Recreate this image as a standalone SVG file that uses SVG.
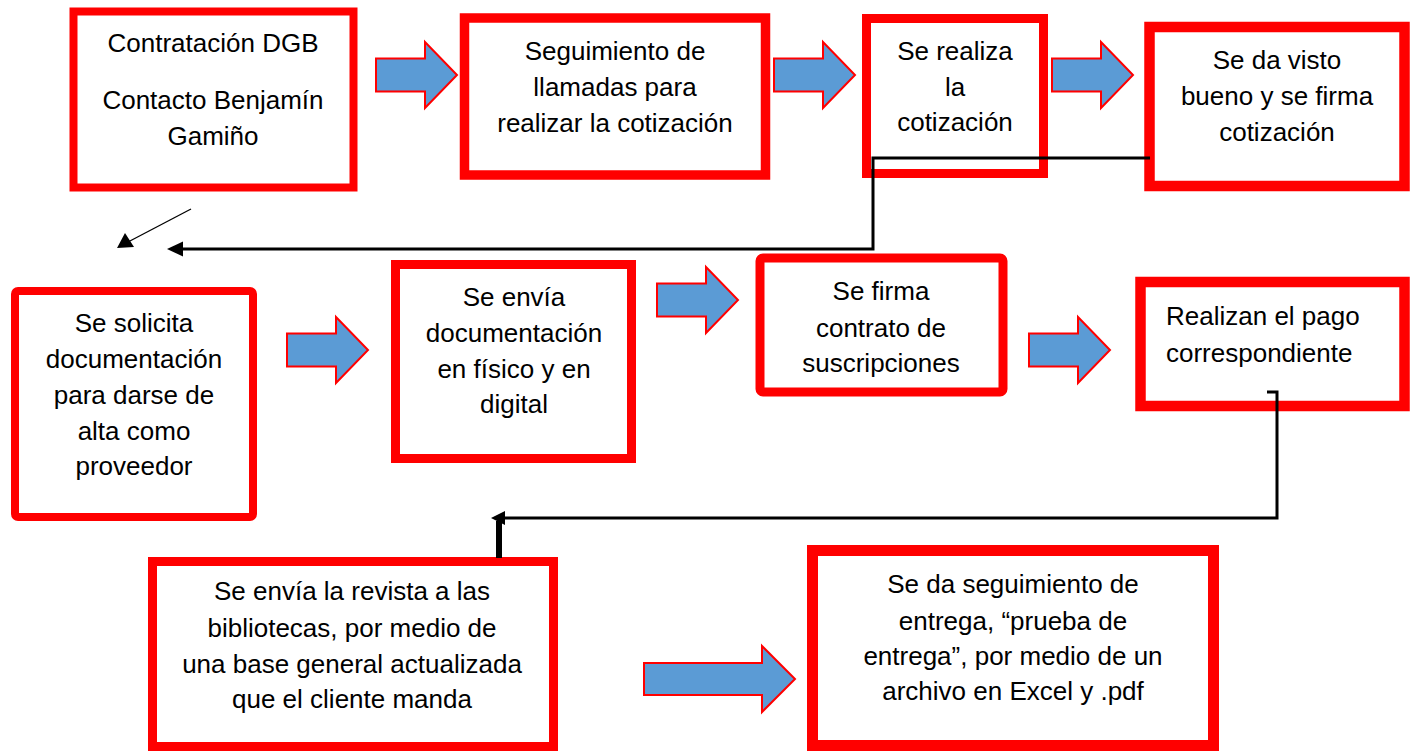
<svg xmlns="http://www.w3.org/2000/svg" xmlns:xlink="http://www.w3.org/1999/xlink" width="1410" height="751" viewBox="0 0 1410 751">
<style>
.box{fill:#fff;stroke:#ff0000}
.t{font-family:"Liberation Sans",Arial,sans-serif;font-size:26px;fill:#000;text-anchor:middle}
.tl{font-family:"Liberation Sans",Arial,sans-serif;font-size:26px;fill:#000}
.ba{fill:#5b9bd5;stroke:#ff0000;stroke-width:2;stroke-linejoin:miter}
.conn{fill:none;stroke:#000;stroke-width:3}
</style>
<defs>
<path id="blk" class="ba" d="M0,-16.5 H49 V-33 L81,0 L49,33 V16.5 H0 Z"/>
</defs>
<rect width="1410" height="751" fill="#fff"/>

<g id="n1">
<rect class="box" x="73.5" y="11.5" width="280" height="176" stroke-width="8"/>
<text class="t" x="213" y="52">Contratación DGB</text>
<text class="t" x="213" y="109">Contacto Benjamín</text>
<text class="t" x="213" y="145">Gamiño</text>
</g>
<g id="n2">
<rect class="box" x="464.5" y="18" width="301" height="157" stroke-width="9.5"/>
<text class="t" x="615" y="60">Seguimiento de</text>
<text class="t" x="615" y="96">llamadas para</text>
<text class="t" x="615" y="132">realizar la cotización</text>
</g>
<g id="n3">
<rect class="box" x="866.5" y="18.5" width="177" height="155" stroke-width="9"/>
<text class="t" x="955" y="60">Se realiza</text>
<text class="t" x="955" y="96">la</text>
<text class="t" x="955" y="131">cotización</text>
</g>
<g id="n4">
<rect class="box" x="1149.5" y="27" width="255" height="159" stroke-width="10.5"/>
<text class="t" x="1277" y="69">Se da visto</text>
<text class="t" x="1277" y="105">bueno y se firma</text>
<text class="t" x="1277" y="141">cotización</text>
</g>
<g id="n5">
<rect class="box" x="15" y="291" width="238" height="226" rx="3" stroke-width="8"/>
<text class="t" x="134" y="332">Se solicita</text>
<text class="t" x="134" y="368">documentación</text>
<text class="t" x="134" y="404">para darse de</text>
<text class="t" x="134" y="440">alta como</text>
<text class="t" x="134" y="475">proveedor</text>
</g>
<g id="n6">
<rect class="box" x="395.5" y="264.5" width="236" height="194" stroke-width="9"/>
<text class="t" x="514" y="306">Se envía</text>
<text class="t" x="514" y="342">documentación</text>
<text class="t" x="514" y="378">en físico y en</text>
<text class="t" x="514" y="413">digital</text>
</g>
<g id="n7">
<rect class="box" x="760" y="258" width="243" height="134" rx="3" stroke-width="9"/>
<text class="t" x="881" y="300">Se firma</text>
<text class="t" x="881" y="337">contrato de</text>
<text class="t" x="881" y="372">suscripciones</text>
</g>
<g id="n8">
<rect class="box" x="1140.5" y="282" width="264" height="124" stroke-width="10.5"/>
<text class="tl" x="1166" y="325">Realizan el pago</text>
<text class="tl" x="1166" y="362">correspondiente</text>
</g>
<g id="n9">
<rect class="box" x="152.5" y="561.5" width="401" height="185" stroke-width="9"/>
<text class="t" x="352" y="600">Se envía la revista a las</text>
<text class="t" x="352" y="637">bibliotecas, por medio de</text>
<text class="t" x="352" y="673">una base general actualizada</text>
<text class="t" x="352" y="708">que el cliente manda</text>
</g>
<g id="n10">
<rect class="box" x="812.5" y="550.5" width="401" height="195" stroke-width="11"/>
<text class="t" x="1013" y="593">Se da seguimiento de</text>
<text class="t" x="1013" y="630">entrega, “prueba de</text>
<text class="t" x="1013" y="665">entrega”, por medio de un</text>
<text class="t" x="1013" y="700">archivo en Excel y .pdf</text>
</g>

<g id="connectors">
<use xlink:href="#blk" href="#blk" x="376" y="75"/>
<use xlink:href="#blk" href="#blk" x="774" y="75"/>
<use xlink:href="#blk" href="#blk" x="1052" y="75"/>
<use xlink:href="#blk" href="#blk" x="287" y="350"/>
<use xlink:href="#blk" href="#blk" x="657" y="300"/>
<use xlink:href="#blk" href="#blk" x="1029" y="350"/>
<path class="ba" d="M644,663 H762 V646 L795,679 L762,712 V695 H644 Z"/>

<polyline class="conn" points="1150,158 873,158 873,249 182,249"/>
<polygon points="167,249 183,241.5 183,256.5" fill="#000"/>

<line x1="191" y1="209" x2="128" y2="242" stroke="#000" stroke-width="1.3"/>
<polygon points="117,248 125,233 134,247" fill="#000"/>

<polyline class="conn" points="1267,392 1277,392 1277,518 503,518"/>
<line x1="499" y1="521" x2="499" y2="558" stroke="#000" stroke-width="6"/>
<polygon points="491,518 505,511 505,525" fill="#000"/>
</g>
</svg>
